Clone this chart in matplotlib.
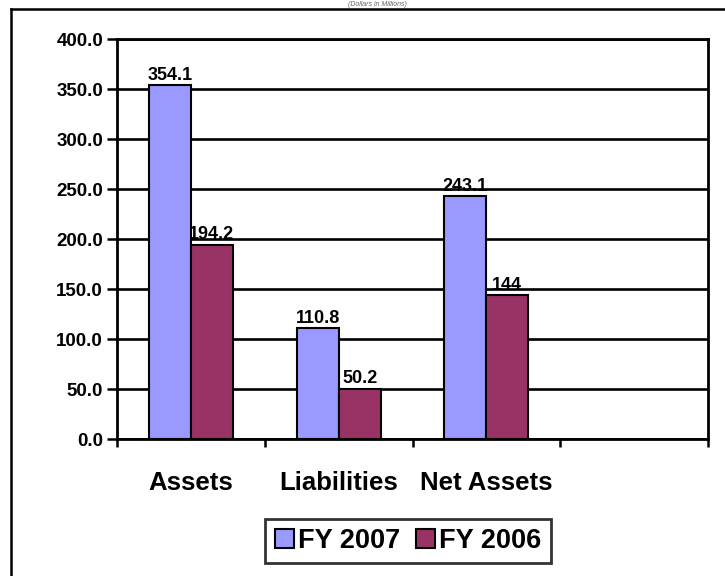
import matplotlib
matplotlib.use("Agg")
import matplotlib.pyplot as plt
from matplotlib.lines import Line2D
import numpy as np

plt.rcParams['font.family'] = ['Liberation Sans', 'DejaVu Sans']

categories = ["Assets", "Liabilities", "Net Assets", ""]
fy2007 = [354.1, 110.8, 243.1]
fy2006 = [194.2, 50.2, 144.0]
labels2007 = ["354.1", "110.8", "243.1"]
labels2006 = ["194.2", "50.2", "144"]
series_names = ["FY 2007", "FY 2006"]
yticks = [0, 50, 100, 150, 200, 250, 300, 350, 400]
title_text = "(Dollars in Millions)"

W, H = 725, 576
fig = plt.figure(figsize=(W / 100, H / 100), dpi=100)
fig.patch.set_facecolor("white")

# outer frame (cropped at right and bottom)
fig.add_artist(Line2D([11 / W, 1.0], [1 - 9 / H, 1 - 9 / H], transform=fig.transFigure,
                      color="black", lw=1.8))
fig.add_artist(Line2D([11 / W, 11 / W], [1 - 9 / H, 0.0], transform=fig.transFigure,
                      color="black", lw=1.8))

# title, mostly hidden above the frame in the reference
fig.text(377 / W, 1 - 1 / H, title_text, ha="center", va="top",
         fontsize=5, style="italic", color="#666666")

ax = fig.add_axes([117 / W, (H - 439) / H, 591 / W, 400 / H])
n = len(categories)
x = np.arange(len(fy2007))
bw = 0.284
ax.bar(x - bw / 2, fy2007, bw, color="#9999FF", edgecolor="black", lw=1.5,
       label=series_names[0], zorder=3)
ax.bar(x + bw / 2, fy2006, bw, color="#993366", edgecolor="black", lw=1.5,
       label=series_names[1], zorder=3)

for xi, v, t in zip(x - bw / 2, fy2007, labels2007):
    ax.annotate(t, (xi, v), xytext=(0, 1), textcoords="offset points",
                ha="center", va="bottom", fontsize=13, fontweight="bold", zorder=4)
for xi, v, t in zip(x + bw / 2, fy2006, labels2006):
    ax.annotate(t, (xi, v), xytext=(0, 1), textcoords="offset points",
                ha="center", va="bottom", fontsize=13, fontweight="bold", zorder=4)

ax.set_xlim(-0.5, n - 0.5)
ax.set_ylim(0, 400)
ax.set_yticks(yticks)
ax.set_yticklabels([f"{v:.1f}" for v in yticks], fontsize=13.5, fontweight="bold")
ax.yaxis.grid(True, color="black", lw=1.9, zorder=0)
ax.set_axisbelow(True)

ax.set_xticks(np.arange(n + 1) - 0.5)
ax.set_xticklabels([])
ax.set_xticks(np.arange(n), minor=True)
ax.set_xticklabels(categories, minor=True, fontsize=18.5, fontweight="bold")
ax.tick_params(axis="x", which="major", direction="out", length=6, width=1.8)
ax.tick_params(axis="x", which="minor", length=0, pad=23)
ax.tick_params(axis="y", direction="out", length=7, width=1.8, pad=3)

for s in ax.spines.values():
    s.set_linewidth(2.0)
    s.set_color("black")

leg = fig.legend(loc="center", bbox_to_anchor=(408 / W, 1 - 541 / H), ncol=2,
                 prop={"size": 19.5, "weight": "bold"}, frameon=True, fancybox=False,
                 edgecolor="black", handlelength=0.7, handleheight=0.7,
                 handletextpad=0.15, columnspacing=0.6, borderpad=0.35)
leg.get_frame().set_linewidth(2.0)

fig.savefig("out.png", dpi=100)
